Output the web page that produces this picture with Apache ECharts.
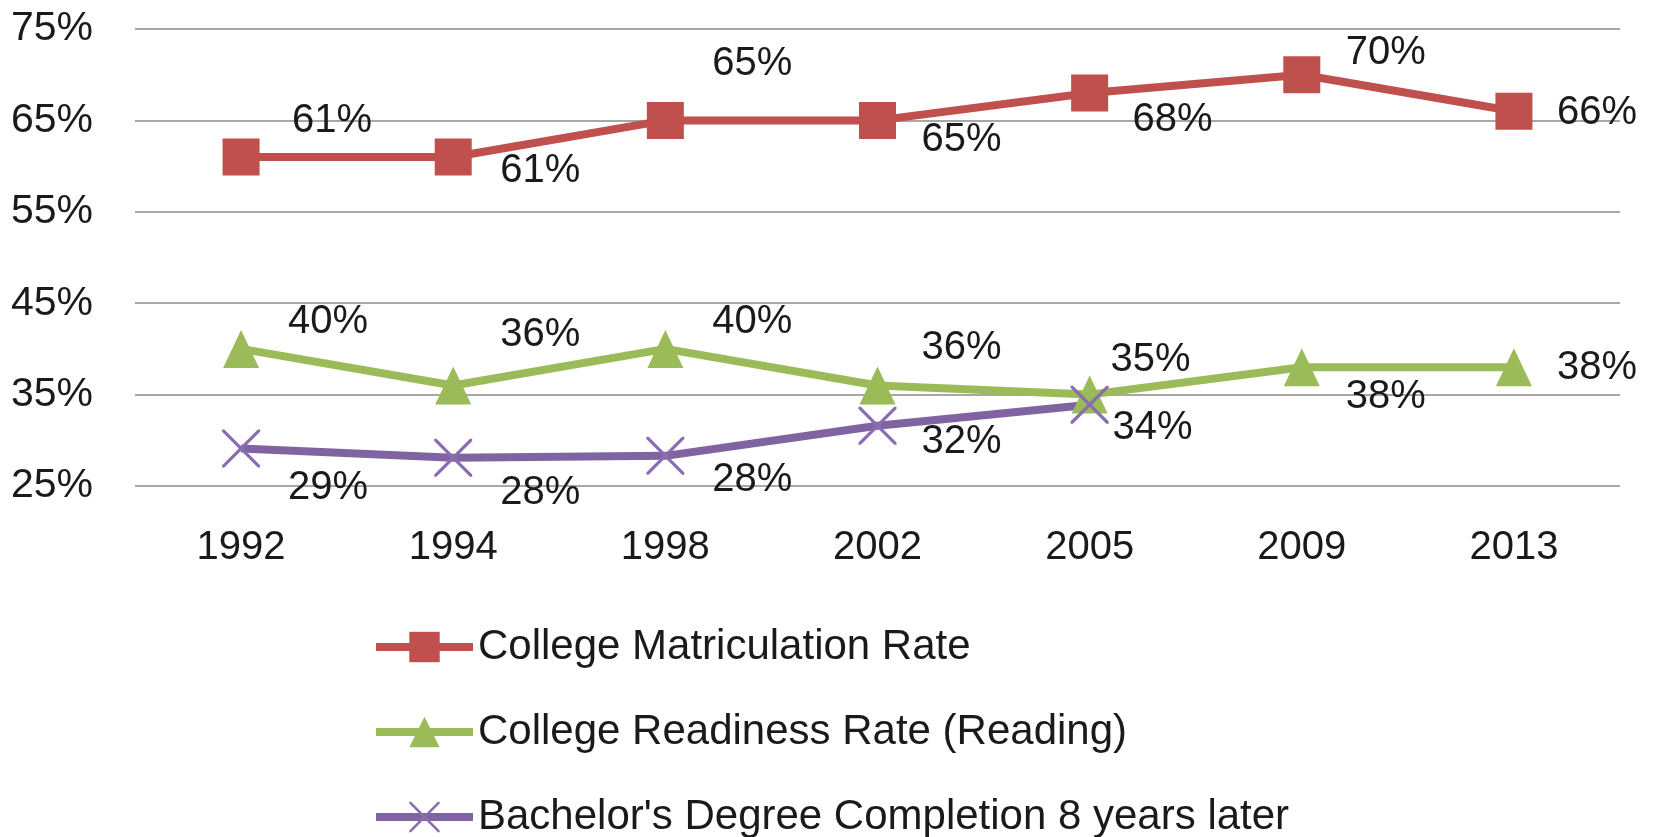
<!DOCTYPE html>
<html>
<head>
<meta charset="utf-8">
<script src="https://cdn.jsdelivr.net/npm/echarts@6/dist/echarts.min.js"></script>
<style>
html,body{margin:0;padding:0;background:#fff;}
#chart{width:1655px;height:837px;}
</style>
</head>
<body>
<div id="chart"></div>
<script>
// ---- data ----
const years = ['1992', '1994', '1998', '2002', '2005', '2009', '2013'];
const seriesNames = ['College Matriculation Rate', 'College Readiness Rate (Reading)', "Bachelor's Degree Completion 8 years later"];
const matriculation = [61, 61, 65, 65, 68, 70, 66];
const readiness = [40, 36, 40, 36, 35, 38, 38];
const completion = [29.1, 28.1, 28.3, 31.6, 33.9, null, null];
const yTicks = [25, 35, 45, 55, 65, 75];

// ---- label placement (styling, not data) ----
const matriculationLabelOffsets = [[91, -36], [87, 14], [87, -56], [84, 20], [83, 27], [84, -22], [83, 2]];
const readinessLabelOffsets = [[87, -27], [87, -50], [87, -27], [84, -37], [61, -35], [84, 30], [83, 1]];
const completionLabelOffsets = [[87, 39], [87, 35], [87, 24], [84, 16], [63, 23], [0, 0], [0, 0]];

const FONT = '"Liberation Sans", Arial, sans-serif';
const TXT = '#1a1a1a';
const xPath = 'path://M0,0 L6,0 L50,44 L94,0 L100,0 L100,6 L56,50 L100,94 L100,100 L94,100 L50,56 L6,100 L0,100 L0,94 L44,50 L0,6 Z';

function mk(values, offsets) {
  return values.map((v, i) => ({ value: v, label: { offset: offsets[i] } }));
}
const labelBase = {
  show: true,
  position: 'inside',
  color: TXT,
  fontFamily: FONT,
  fontSize: 40,
  formatter: p => (p.value == null ? '' : Math.round(p.value) + '%')
};

const chart = echarts.init(document.getElementById('chart'), null, { renderer: 'canvas' });
chart.setOption({
  backgroundColor: '#fff',
  animation: false,
  grid: { left: 135, right: 35, top: 29, bottom: 351, containLabel: false },
  xAxis: {
    type: 'category',
    data: years,
    boundaryGap: true,
    axisLine: { show: false },
    axisTick: { show: false },
    axisLabel: { color: TXT, fontFamily: FONT, fontSize: 40, margin: 42 }
  },
  yAxis: {
    type: 'value',
    min: yTicks[0],
    max: yTicks[yTicks.length - 1],
    interval: 10,
    axisLine: { show: false },
    axisTick: { show: false },
    axisLabel: { color: TXT, fontFamily: FONT, fontSize: 41, margin: 42, formatter: v => v + '%' },
    splitLine: { lineStyle: { color: '#8a8a8a', width: 1.5 } }
  },
  legend: {
    orient: 'vertical',
    left: 372,
    top: 626,
    height: 400,
    padding: 0,
    itemWidth: 97,
    itemHeight: 38,
    itemGap: 43,
    lineStyle: { width: 8 },
    textStyle: { color: TXT, fontFamily: FONT, fontSize: 42 },
    data: seriesNames
  },
  series: [
    {
      name: seriesNames[0], type: 'line',
      data: mk(matriculation, matriculationLabelOffsets),
      symbol: 'rect', symbolSize: 37,
      color: '#C0504D',
      lineStyle: { width: 8, color: '#C0504D' },
      itemStyle: { color: '#C0504D' },
      label: labelBase
    },
    {
      name: seriesNames[1], type: 'line',
      data: mk(readiness, readinessLabelOffsets),
      symbol: 'triangle', symbolSize: [36, 38],
      color: '#9BBB59',
      lineStyle: { width: 8, color: '#9BBB59' },
      itemStyle: { color: '#9BBB59' },
      label: labelBase
    },
    {
      name: seriesNames[2], type: 'line',
      data: mk(completion, completionLabelOffsets),
      symbol: xPath, symbolSize: 38,
      color: '#8064A2',
      lineStyle: { width: 8, color: '#8064A2' },
      itemStyle: { color: '#8A6DB0' },
      label: labelBase
    }
  ]
});
</script>
</body>
</html>
